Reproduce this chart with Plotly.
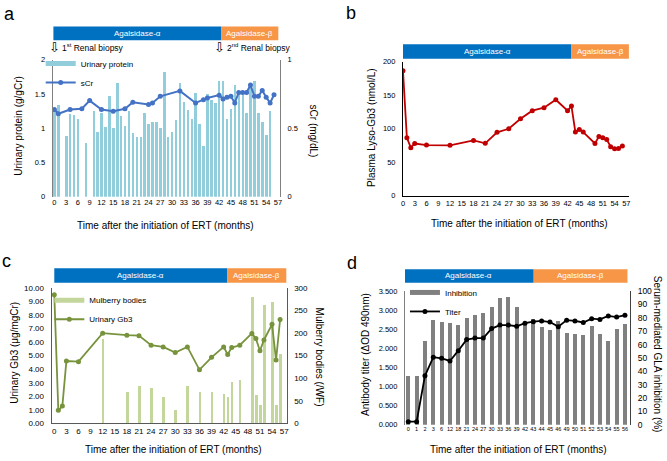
import plotly.graph_objects as go

FONT = "Liberation Sans, Arial, Helvetica, sans-serif"
W, H = 667, 461

# ---------------- Panel a ----------------
protein_months = [0, 1, 3, 4, 5, 6, 8, 10, 11, 12, 13, 14, 15, 16, 17, 18, 19, 20, 21, 22, 23, 24,
                  25, 26, 27, 28, 29, 30, 31, 32, 33, 34, 35, 36, 37, 38, 39, 40, 41, 42, 43, 44,
                  45, 46, 47, 48, 49, 50, 51, 52, 53, 54, 55]
protein_vals = [1.30, 1.34, 0.89, 1.21, 1.20, 1.14, 0.79, 1.26, 0.95, 1.23, 1.02, 1.48, 1.00, 1.66,
                1.18, 1.03, 1.26, 0.93, 0.88, 0.88, 1.23, 1.07, 1.10, 1.10, 1.01, 1.83, 0.87, 0.95,
                1.13, 1.66, 1.38, 1.27, 1.14, 1.52, 1.07, 0.75, 1.51, 1.41, 1.37, 1.69, 1.69, 1.14,
                1.28, 1.63, 1.52, 1.49, 1.23, 1.60, 1.70, 1.23, 1.10, 0.91, 1.25]
scr_months = [0, 1, 4, 7, 9, 12, 15, 18, 20, 24, 25, 27, 32, 36, 38, 39, 42, 43, 44, 45, 46, 47,
              48, 49, 50, 51, 52, 53, 54, 55, 56]
scr_vals = [0.637, 0.606, 0.637, 0.642, 0.702, 0.637, 0.625, 0.642, 0.690, 0.673, 0.685, 0.733,
            0.773, 0.685, 0.709, 0.721, 0.742, 0.714, 0.726, 0.733, 0.685, 0.762, 0.762, 0.762,
            0.816, 0.733, 0.733, 0.776, 0.726, 0.685, 0.745]
month_ticks = [0, 3, 6, 9, 12, 15, 18, 21, 24, 27, 30, 33, 36, 39, 42, 45, 48, 51, 54, 57]
biopsy_months = [0, 42]
biopsy_labels = ["1<sup>st</sup> Renal biopsy", "2<sup>nd</sup> Renal biopsy"]

# ---------------- Panel b ----------------
lyso_months = [0, 1, 2, 3, 6, 12, 18, 21, 24, 27, 30, 33, 36, 39, 42, 43, 44, 45, 46, 49, 50,
               51, 52, 53, 54, 55, 56]
lyso_vals = [186.7, 86.4, 71.8, 78.0, 75.7, 75.2, 82.5, 78.2, 94.7, 100.0, 115.0, 127.0, 131.4,
             143.3, 127.0, 133.8, 95.0, 99.0, 95.0, 78.0, 88.3, 86.4, 84.0, 73.3, 70.0, 70.4, 74.3]

# ---------------- Panel c ----------------
gb3_months = [0, 1, 2, 3, 6, 12, 18, 21, 24, 27, 30, 33, 36, 39, 42, 43, 44, 46, 49, 50, 51, 52,
              54, 55, 56]
gb3_vals = [9.49, 0.97, 1.28, 4.60, 4.55, 6.65, 6.50, 6.47, 5.76, 5.64, 5.23, 5.64, 3.95, 4.87,
            5.64, 5.08, 5.59, 5.76, 6.63, 6.25, 5.35, 6.15, 7.30, 4.67, 7.66]
mulberry_months = [12, 18, 21, 24, 27, 30, 33, 36, 39, 42, 43, 44, 46, 49, 50, 51, 52, 54, 55, 56]
mulberry_vals = [188, 71, 84, 79, 60, 30, 83, 71, 70, 65, 58, 93, 97, 280, 63, 41, 263, 269, 41, 153]

# ---------------- Panel d ----------------
d_cats = ["0", "1", "2", "3", "6", "12", "18", "21", "24", "27", "30", "33", "36", "39", "42",
          "43", "44", "45", "46", "49", "50", "51", "52", "53", "54", "55", "56"]
inhibition = [36.5, 36.0, 62.3, 78.4, 77.0, 75.7, 74.5, 79.7, 81.9, 83.8, 88.2, 94.9, 95.3, 88.0,
              77.0, 79.3, 73.3, 70.8, 77.5, 68.8, 68.0, 66.8, 73.8, 68.0, 62.5, 71.3, 75.5]
titer = [0.08, 0.08, 1.28, 1.77, 1.74, 1.67, 1.94, 2.23, 2.27, 2.27, 2.52, 2.61, 2.61, 2.58, 2.66,
         2.70, 2.72, 2.69, 2.57, 2.74, 2.72, 2.68, 2.78, 2.76, 2.85, 2.82, 2.87]

# treatment phases (start, switch, end) in each panel's x units
phase_names = ["Agalsidase-α", "Agalsidase-β"]
phase_colors = ["#0070C0", "#F79646"]
phases_a = [-0.25, 42.6, 57.1]
phases_b = [0, 43.0, 57.65]
phases_c = [0, 42.85, 57.6]
phases_d = [-0.6, 15.05, 26.3]

BLUE_BAR = "#92CDDC"
SCR = "#4472C4"
RED = "#C00000"
GREEN_BAR = "#C3D69B"
GREEN_LINE = "#77933C"
GRAY_BAR = "#808080"


def px(x):
    return x / W


def py(y):
    return 1 - y / H


fig = go.Figure()

# a
fig.add_trace(go.Bar(x=protein_months, y=protein_vals, width=0.5, marker=dict(color=BLUE_BAR, line_width=0),
                     xaxis="x", yaxis="y", showlegend=False, name="Urinary protein"))
fig.add_trace(go.Scatter(x=[None], y=[None], mode="lines", line=dict(color=BLUE_BAR, width=5),
                         name="Urinary protein", xaxis="x", yaxis="y", legend="legend"))
fig.add_trace(go.Scatter(x=scr_months, y=scr_vals, mode="lines+markers", name="sCr",
                         line=dict(color=SCR, width=2), marker=dict(size=5, color=SCR),
                         xaxis="x", yaxis="y2", legend="legend"))
# b
fig.add_trace(go.Scatter(x=lyso_months, y=lyso_vals, mode="lines+markers", name="Lyso-Gb3",
                         line=dict(color=RED, width=1.8), marker=dict(size=5, color=RED),
                         xaxis="x2", yaxis="y3", showlegend=False))
# c  (bars on right axis y4 = base, line on left axis y5 = overlay, so the line is drawn on top)
fig.add_trace(go.Bar(x=mulberry_months, y=mulberry_vals, width=0.65, marker=dict(color=GREEN_BAR, line_width=0),
                     xaxis="x3", yaxis="y4", showlegend=False, name="Mulberry bodies"))
fig.add_trace(go.Scatter(x=[None], y=[None], mode="lines", line=dict(color=GREEN_BAR, width=5),
                         name="Mulberry bodies", xaxis="x3", yaxis="y4", legend="legend2"))
fig.add_trace(go.Scatter(x=gb3_months, y=gb3_vals, mode="lines+markers", name="Urinary Gb3",
                         line=dict(color=GREEN_LINE, width=1.8), marker=dict(size=5, color=GREEN_LINE),
                         xaxis="x3", yaxis="y5", legend="legend2"))
# d
fig.add_trace(go.Bar(x=d_cats, y=inhibition, width=0.5, marker=dict(color=GRAY_BAR, line_width=0),
                     xaxis="x4", yaxis="y6", showlegend=False, name="Inhibition"))
fig.add_trace(go.Scatter(x=[None], y=[None], mode="lines", line=dict(color=GRAY_BAR, width=5),
                         name="Inhibition", xaxis="x4", yaxis="y6", legend="legend3"))
fig.add_trace(go.Scatter(x=d_cats, y=titer, mode="lines+markers", name="Titer",
                         line=dict(color="black", width=1.8), marker=dict(size=5, color="black"),
                         xaxis="x4", yaxis="y7", legend="legend3"))

base_x = dict(ticks="", showgrid=False, zeroline=False, tickfont=dict(size=7.5))
base_y = dict(ticks="", showgrid=False, zeroline=False, tickfont=dict(size=7.5), ticklabelstandoff=5)

layout = dict(
    width=W, height=H, margin=dict(l=0, r=0, t=0, b=0),
    paper_bgcolor="white", plot_bgcolor="white",
    font=dict(family=FONT, color="black"),
    xaxis=dict(base_x, domain=[px(51), px(280)], range=[-0.45, 57.5], tickmode="array",
               tickvals=month_ticks, anchor="y", showline=False),
    yaxis=dict(base_y, domain=[py(196), py(56)], range=[0, 2], tickvals=[0, 0.5, 1, 1.5, 2],
               showline=True, linecolor="#808080", anchor="x"),
    yaxis2=dict(base_y, overlaying="y", side="right", range=[0, 1], tickvals=[0, 0.5, 1],
                showline=True, linecolor="#808080", anchor="x"),
    xaxis2=dict(base_x, domain=[px(404), px(632)], range=[0, 57.75], tickmode="array",
                tickvals=month_ticks, anchor="y3", showline=True, linecolor="black"),
    yaxis3=dict(base_y, domain=[py(195), py(58)], range=[0, 200], tickvals=[0, 50, 100, 150, 200],
                showline=True, linecolor="black", anchor="x2"),
    xaxis3=dict(base_x, domain=[px(50), px(286.7)], range=[-0.66, 57.6], tickmode="array",
                tickvals=month_ticks, anchor="y4", showline=True, linecolor="#595959",
                tickfont=dict(size=8)),
    yaxis4=dict(base_y, domain=[py(427.7), py(289)], side="right", range=[0, 300], dtick=50,
                showline=True, linecolor="#595959", anchor="x3", tickfont=dict(size=8)),
    yaxis5=dict(base_y, overlaying="y4", side="left", range=[0, 10], dtick=1, tickformat=".2f",
                showline=True, linecolor="#595959", anchor="x3", tickfont=dict(size=8)),
    xaxis4=dict(base_x, domain=[px(406), px(632.7)], type="category", range=[-0.4, 26.6],
                tickmode="linear", dtick=1, anchor="y6", showline=False, tickfont=dict(size=5.5)),
    yaxis6=dict(base_y, domain=[py(429), py(292.5)], side="right", range=[0, 100], dtick=10,
                showline=True, linecolor="#404040", anchor="x4", tickfont=dict(size=8.5)),
    yaxis7=dict(base_y, overlaying="y6", side="left", range=[0, 3.5], dtick=0.5, tickformat=".3f",
                showline=True, linecolor="#808080", anchor="x4"),
    legend=dict(x=px(39), y=py(45), xanchor="left", yanchor="top", bgcolor="rgba(0,0,0,0)",
                font=dict(size=8), itemwidth=30, tracegroupgap=0),
    legend2=dict(x=px(47.7), y=py(287), xanchor="left", yanchor="top", bgcolor="rgba(0,0,0,0)",
                 font=dict(size=8), itemwidth=30, tracegroupgap=0),
    legend3=dict(x=px(406), y=py(279), xanchor="left", yanchor="top", bgcolor="rgba(0,0,0,0)",
                 font=dict(size=8), itemwidth=30, tracegroupgap=0),
    bargap=0,
)

shapes = []
annotations = []


def add_phases(xref, bounds, y0, y1):
    for i in range(2):
        shapes.append(dict(type="rect", xref=xref, yref="paper", x0=bounds[i], x1=bounds[i + 1],
                           y0=py(y1), y1=py(y0), fillcolor=phase_colors[i], line_width=0, layer="above"))
        annotations.append(dict(xref=xref, yref="paper", x=(bounds[i] + bounds[i + 1]) / 2,
                                y=py((y0 + y1) / 2), text=phase_names[i], showarrow=False,
                                font=dict(size=8, color="white"), xanchor="center", yanchor="middle"))


add_phases("x", phases_a, 22, 36)
add_phases("x2", phases_b, 40, 55)
add_phases("x3", phases_c, 269, 284)
add_phases("x4", phases_d, 270, 284)

# biopsy markers
for m, lab in zip(biopsy_months, biopsy_labels):
    annotations.append(dict(xref="x", yref="paper", x=m, y=py(43), text="⇩", showarrow=False,
                            font=dict(size=13, family="DejaVu Sans"), xanchor="center", yanchor="middle"))
    annotations.append(dict(xref="x", yref="paper", x=m, xshift=6, y=py(43), text=lab, showarrow=False,
                            font=dict(size=8.5), xanchor="left", yanchor="middle"))


def title(text, x, y, angle=0, size=10):
    annotations.append(dict(xref="paper", yref="paper", x=px(x), y=py(y), text=text, showarrow=False,
                            textangle=angle, font=dict(size=size), xanchor="center", yanchor="middle"))


xt = "Time after the initiation of ERT (months)"
title(xt, 165, 225)
title(xt, 521.5, 223)
title(xt, 172.5, 454)
title(xt, 520.5, 454)
title("Urinary protein (g/gCr)", 16.5, 124, -90)
title("sCr (mg/dL)", 314, 129, 90)
title("Plasma Lyso-Gb3 (nmol/L)", 372.5, 125, -90)
title("Urinary Gb3 (μg/mgCr)", 12.5, 355, -90)
title("Mulberry bodies (/WF)", 320, 360, 90)
title("Antibody titer (ΔOD 490nm)", 365.5, 357, -90)
title("Serum-mediated GLA inhibition (%)", 660.5, 357, 90)
# panel letters
title("a", 8, 9, 0, 18)
title("b", 352, 8, 0, 18)
title("c", 5, 262, 0, 18)
title("d", 353, 264, 0, 18)

layout["shapes"] = shapes
layout["annotations"] = annotations
fig.update_layout(**layout)
fig.write_html("out.html", config={"displayModeBar": False},
               post_script="document.body.style.margin='0';document.body.style.overflow='hidden';")
